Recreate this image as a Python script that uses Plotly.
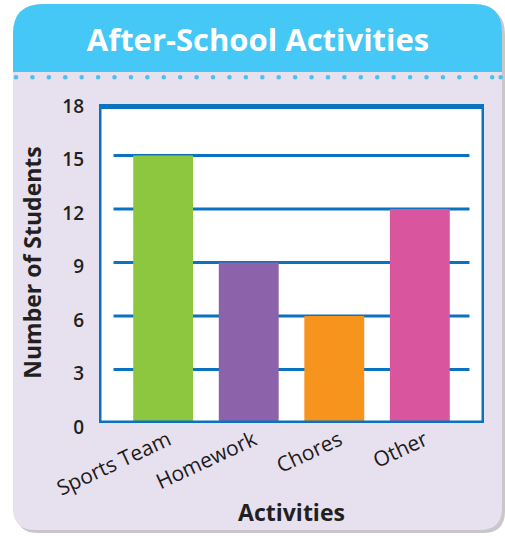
import plotly.graph_objects as go

# ---- data ----
activities = ["Sports Team", "Homework", "Chores", "Other"]
students = [15, 9, 6, 12]
bar_colors = ["#8DC63F", "#8C62AA", "#F7941D", "#D9559E"]
y_ticks = [0, 3, 6, 9, 12, 15, 18]
grid_values = [3, 6, 9, 12, 15]

# ---- page geometry (pixels) ----
W, H = 505, 536
M_L, M_R, M_T, M_B = 99, 21, 102, 113
PLOT_W = W - M_L - M_R
PLOT_H = H - M_T - M_B

INK = "#231F20"
FRAME_BLUE = "#0A72BE"
HEADER_BLUE = "#45C8F5"
DOT_BLUE = "#4CC0EE"
CARD_FILL = "#E6E0EF"
FONT = "Open Sans"


def px(x):
    return (x - M_L) / PLOT_W


def py(y):
    return (M_T + PLOT_H - y) / PLOT_H


def rounded_path(x0, y0, x1, y1, r_tl, r_tr, r_br, r_bl):
    """Rounded rectangle path (pixel input, paper output)."""
    pts = [
        ("M", [(x0 + r_tl, y0)]),
        ("L", [(x1 - r_tr, y0)]),
        ("Q", [(x1, y0), (x1, y0 + r_tr)]),
        ("L", [(x1, y1 - r_br)]),
        ("Q", [(x1, y1), (x1 - r_br, y1)]),
        ("L", [(x0 + r_bl, y1)]),
        ("Q", [(x0, y1), (x0, y1 - r_bl)]),
        ("L", [(x0, y0 + r_tl)]),
        ("Q", [(x0, y0), (x0 + r_tl, y0)]),
    ]
    out = []
    for cmd, coords in pts:
        out.append(cmd + " ".join(f"{px(a):.5f},{py(b):.5f}" for a, b in coords))
    return " ".join(out) + " Z"


shapes = []
# card shadow, card body, header band
shapes.append(dict(type="path", xref="paper", yref="paper", layer="below",
                   path=rounded_path(16, 7, 505, 533, 30, 28, 22, 22),
                   fillcolor="#C9C7CC", line=dict(width=0)))
shapes.append(dict(type="path", xref="paper", yref="paper", layer="below",
                   path=rounded_path(13, 4, 502, 530, 30, 28, 22, 22),
                   fillcolor=CARD_FILL, line=dict(width=0)))
shapes.append(dict(type="path", xref="paper", yref="paper", layer="below",
                   path=rounded_path(13, 4, 502, 72, 30, 28, 0, 0),
                   fillcolor=HEADER_BLUE, line=dict(width=0)))

# dotted divider under the header
dot_r = 2.3
dot_xs = [16 + 16.42 * k for k in range(30)] + [500.7]
for dx in dot_xs:
    shapes.append(dict(type="circle", xref="paper", yref="paper", layer="below",
                       x0=px(dx - dot_r), x1=px(dx + dot_r),
                       y0=py(77.3 + dot_r), y1=py(77.3 - dot_r),
                       fillcolor=DOT_BLUE, line=dict(width=0)))

# white chart panel
X_LO, X_HI = -0.75, 3.75
FRAME_TOP = 17.75
shapes.append(dict(type="rect", xref="x", yref="y", layer="below",
                   x0=X_LO, x1=X_HI, y0=0, y1=FRAME_TOP,
                   fillcolor="white", line=dict(width=0)))

# inset horizontal grid lines
for g in grid_values:
    shapes.append(dict(type="line", xref="x", yref="y", layer="below",
                       x0=-0.58, x1=3.58, y0=g, y1=g,
                       line=dict(color=FRAME_BLUE, width=3)))

# heavy blue frame around the panel
shapes.append(dict(type="rect", xref="x", yref="y", layer="above",
                   x0=X_LO, x1=X_HI, y0=0, y1=FRAME_TOP,
                   fillcolor="rgba(0,0,0,0)",
                   line=dict(color=FRAME_BLUE, width=5)))

fig = go.Figure(
    go.Bar(
        x=activities,
        y=students,
        marker=dict(color=bar_colors, line=dict(width=0)),
        width=0.7,
        hoverinfo="skip",
    )
)

fig.update_layout(
    width=W,
    height=H,
    margin=dict(l=M_L, r=M_R, t=M_T, b=M_B, pad=0),
    paper_bgcolor="white",
    plot_bgcolor="rgba(0,0,0,0)",
    showlegend=False,
    shapes=shapes,
    font=dict(family=FONT, color=INK),
    title=dict(
        text="After-School Activities",
        x=258 / W, y=1 - 40 / H,
        xref="container", yref="container",
        xanchor="center", yanchor="middle",
        font=dict(family=FONT, size=31, color="white", weight="bold"),
    ),
)

fig.update_xaxes(
    range=[X_LO, X_HI],
    showgrid=False, zeroline=False, showline=False, ticks="",
    tickangle=-25,
    tickfont=dict(family=FONT, size=21, color="#1E1A1B"),
    ticklabelstandoff=0,
    ticklabelshift=5,
    title=dict(text="Activities", standoff=4,
               font=dict(family=FONT, size=23, color=INK, weight="bold")),
)
fig.update_yaxes(
    range=[0, 18],
    tickvals=y_ticks,
    showgrid=False, zeroline=False, showline=False, ticks="",
    tickfont=dict(family=FONT, size=19, color=INK, weight=600),
    ticklabelstandoff=14,
    ticklabelshift=4,
    title=dict(text="Number of Students", standoff=14,
               font=dict(family=FONT, size=23, color=INK, weight="bold")),
)

fig.write_html("out.html")
